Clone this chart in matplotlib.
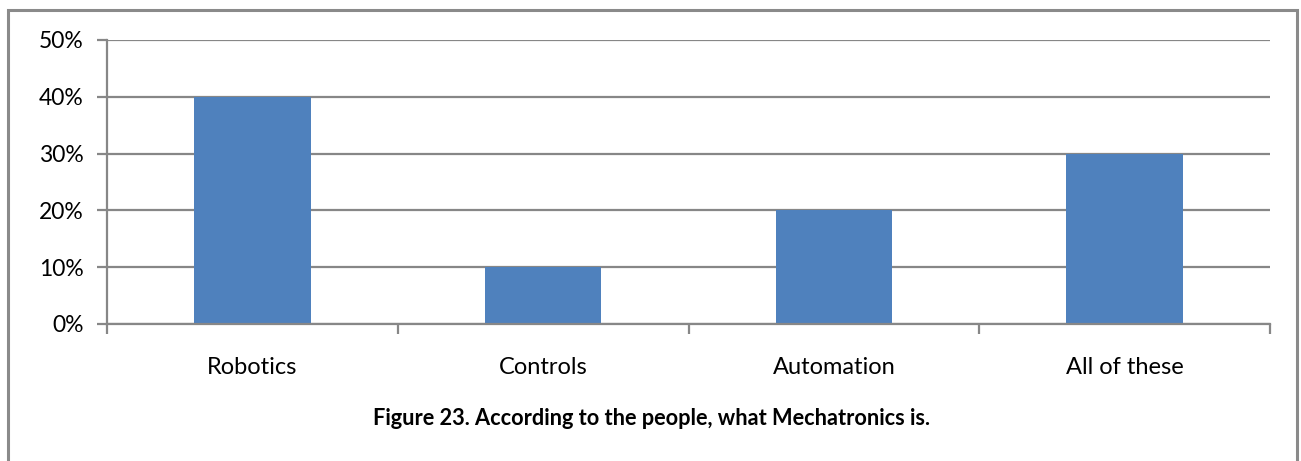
import matplotlib
matplotlib.use("Agg")
import matplotlib.pyplot as plt
from matplotlib.patches import Rectangle
from matplotlib.ticker import PercentFormatter, FixedLocator

categories = ["Robotics", "Controls", "Automation", "All of these"]
shares = [40, 10, 20, 30]
y_ticks = [0, 10, 20, 30, 40, 50]
title = "Figure 23. According to the people, what Mechatronics is."

W, H = 1301, 461
plt.rcParams["font.family"] = ["Lato", "DejaVu Sans"]

fig = plt.figure(figsize=(W / 100, H / 100), dpi=100)
ax = fig.add_axes([107 / W, 1 - 324 / H, (1270 - 107) / W, (324 - 40) / H])

grid_col = "#878787"
x = range(len(categories))
ax.bar(x, shares, width=0.4, color="#4F81BD", zorder=3)

ax.set_xlim(-0.5, len(categories) - 0.5)
ax.set_ylim(0, 50)
ax.set_yticks(y_ticks)
ax.yaxis.set_major_formatter(PercentFormatter(decimals=0))
ax.yaxis.grid(True, color=grid_col, linewidth=1.6, zorder=0)

ax.set_xticks(list(x))
ax.set_xticklabels(categories)
ax.xaxis.set_minor_locator(FixedLocator([i - 0.5 for i in range(len(categories) + 1)]))
ax.tick_params(axis="x", which="major", length=0, pad=24, labelsize=17)
ax.tick_params(axis="x", which="minor", length=7, width=1.6, color=grid_col)
ax.tick_params(axis="y", length=7, width=1.6, color=grid_col, pad=10, labelsize=16.5)

for side in ("top", "right"):
    ax.spines[side].set_visible(False)
for side in ("left", "bottom"):
    ax.spines[side].set_color(grid_col)
    ax.spines[side].set_linewidth(1.6)
ax.spines["bottom"].set_zorder(4)

fig.text(651 / W, 1 - 418 / H, title, ha="center", va="center",
         fontsize=15.7, fontweight="bold")

fig.patches.append(Rectangle((8 / W, -0.05), (1297 - 8) / W, 1 - 10 / H + 0.05,
                             transform=fig.transFigure, fill=False,
                             edgecolor="#8a8a8a", linewidth=2.2))

fig.savefig("out.png", dpi=100)
